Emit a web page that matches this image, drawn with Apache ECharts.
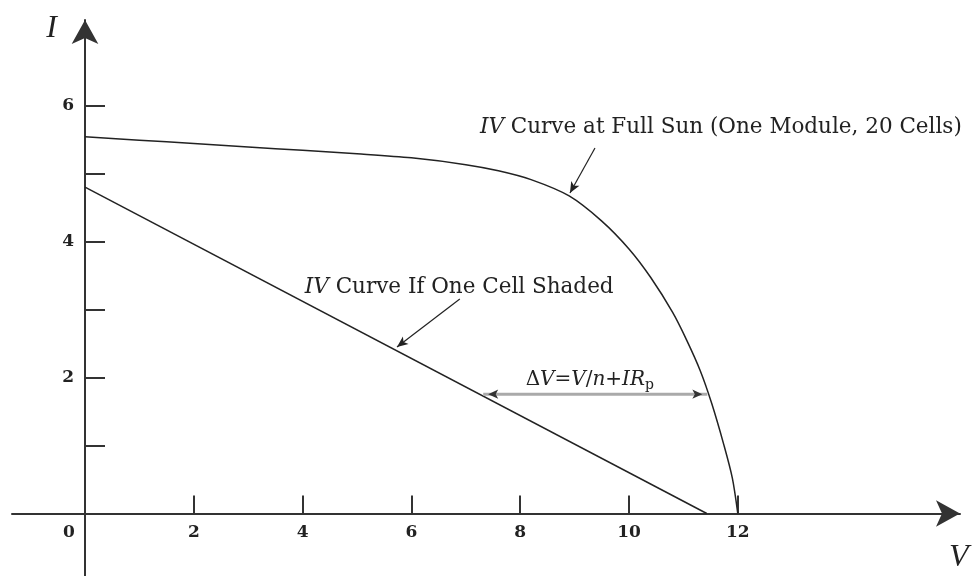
<!DOCTYPE html>
<html>
<head>
<meta charset="utf-8">
<script src="https://cdn.jsdelivr.net/npm/echarts@6/dist/echarts.min.js"></script>
<style>
  html, body { margin: 0; padding: 0; background: #fff; }
  #chart { width: 972px; height: 576px; }
</style>
</head>
<body>
<div id="chart"></div>
<script>
// I–V curve of one 20-cell module at full sun (V in volts, I in amps)
const fullSunV = [0, 1, 2, 3, 4, 5, 6, 7, 7.6, 8.2, 8.9, 9.5, 10, 10.4, 10.8, 11.06, 11.31, 11.52, 11.74, 11.9, 12.0];
const fullSunI = [5.54, 5.49, 5.44, 5.39, 5.34, 5.29, 5.23, 5.13, 5.04, 4.91, 4.67, 4.30, 3.89, 3.47, 2.96, 2.55, 2.10, 1.62, 1.02, 0.52, 0];

// Same module with one cell shaded
const shadedV = [0, 11.43];
const shadedI = [4.8, 0];

// Axis ticks and labels
const xTickValues = [2, 4, 6, 8, 10, 12];
const xLabelValues = [0, 2, 4, 6, 8, 10, 12];
const yTickValues = [1, 2, 3, 4, 5, 6];
const yLabelValues = [2, 4, 6];

// Annotations (data coordinates)
const fullSunPointer = [[9.375, 5.375], [8.915, 4.713]];
const shadedPointer = [[6.89, 3.154], [5.735, 2.449]];
const deltaVSpan = [[7.32, 1.755], [11.44, 1.755]];
const fullSunLabelAt = [7.26, 5.68];
const shadedLabelAt = [4.04, 3.33];
const deltaVLabelAt = [9.28, 1.96];

const fullSunText = '{i|IV}{n| Curve at Full Sun (One Module, 20 Cells)}';
const shadedText = '{i|IV}{n| Curve If One Cell Shaded}';
const deltaVText = '{n|\u0394}{i|V}{n|=}{i|V}{n|/}{i|n}{n|+}{i|IR}{s|p}';

const serif = 'DejaVu Serif';
const ink = '#222';
const axisColor = '#333';

// plot frame in pixels and the value ranges it spans
const gridBox = { left: 12, right: 12, top: 20, bottom: 0 };
const xRange = [-1.342, 16.085];
const yRange = [-0.919, 7.257];
const plotW = 972 - gridBox.left - gridBox.right;
const plotH = 576 - gridBox.top - gridBox.bottom;
// shift the axes so they cross at the origin, labels included
const xAxisOffset = -((0 - yRange[0]) / (yRange[1] - yRange[0])) * plotH;
const yAxisOffset = -((0 - xRange[0]) / (xRange[1] - xRange[0])) * plotW;

function richSet(size) {
  return {
    n: { fontFamily: serif, fontSize: size, color: ink },
    i: { fontFamily: serif, fontSize: size, fontStyle: 'italic', color: ink },
    s: { fontFamily: serif, fontSize: Math.round(size * 0.7), color: ink, padding: [10, 0, 0, 0] }
  };
}

const zip = (xs, ys) => xs.map((x, k) => [x, ys[k]]);
const tickFont = { fontFamily: serif, fontSize: 17, fontWeight: 'bold', color: ink };

const chart = echarts.init(document.getElementById('chart'), null, { renderer: 'canvas' });

chart.setOption({
  animation: false,
  backgroundColor: '#fff',
  grid: Object.assign({ containLabel: false, outerBoundsMode: 'none' }, gridBox),
  xAxis: {
    type: 'value',
    min: xRange[0],
    max: xRange[1],
    position: 'bottom',
    offset: xAxisOffset,
    name: 'V',
    nameLocation: 'end',
    nameGap: -11,
    nameTextStyle: {
      fontFamily: 'Liberation Serif', fontStyle: 'italic', fontSize: 32, color: ink,
      align: 'left', verticalAlign: 'top', padding: [28, 0, 0, 0]
    },
    axisLine: {
      onZero: false,
      symbol: ['none', 'arrow'],
      symbolSize: [20, 24],
      lineStyle: { color: axisColor, width: 2 }
    },
    axisTick: { show: true, inside: true, length: 18, customValues: xTickValues, lineStyle: { color: axisColor, width: 2 } },
    axisLabel: Object.assign({
      customValues: xLabelValues,
      margin: 11,
      formatter: v => (v === 0 ? '{z|0}' : String(v)),
      rich: { z: Object.assign({ padding: [0, 32, 0, 0] }, tickFont) }
    }, tickFont),
    splitLine: { show: false }
  },
  yAxis: {
    type: 'value',
    min: yRange[0],
    max: yRange[1],
    position: 'left',
    offset: yAxisOffset,
    name: 'I',
    nameLocation: 'end',
    nameGap: -9,
    nameTextStyle: {
      fontFamily: 'Liberation Serif', fontStyle: 'italic', fontSize: 32, color: ink,
      align: 'right', verticalAlign: 'middle', padding: [0, 28, 0, 0]
    },
    axisLine: {
      onZero: false,
      symbol: ['none', 'arrow'],
      symbolSize: [20, 24],
      lineStyle: { color: axisColor, width: 2 }
    },
    axisTick: { show: true, inside: true, length: 20, customValues: yTickValues, lineStyle: { color: axisColor, width: 2 } },
    axisLabel: Object.assign({ customValues: yLabelValues, margin: 11 }, tickFont),
    splitLine: { show: false }
  },
  series: [
    {
      name: 'Full sun',
      type: 'line',
      data: zip(fullSunV, fullSunI),
      smooth: 0.3,
      showSymbol: false,
      silent: true,
      lineStyle: { color: ink, width: 1.5 },
      markLine: {
        silent: true,
        symbol: ['none', 'arrow'],
        symbolSize: [7, 11],
        label: { show: false },
        lineStyle: { color: ink, width: 1.2, type: 'solid' },
        data: [[{ coord: fullSunPointer[0] }, { coord: fullSunPointer[1] }]]
      },
      markPoint: {
        silent: true,
        symbol: 'circle',
        symbolSize: 0,
        label: { show: true, position: 'inside', align: 'left', verticalAlign: 'middle', formatter: fullSunText, rich: richSet(21.5) },
        data: [{ coord: fullSunLabelAt }]
      }
    },
    {
      name: 'One cell shaded',
      type: 'line',
      data: zip(shadedV, shadedI),
      showSymbol: false,
      silent: true,
      lineStyle: { color: ink, width: 1.5 },
      markLine: {
        silent: true,
        symbol: ['none', 'arrow'],
        symbolSize: [7, 11],
        label: { show: false },
        lineStyle: { color: ink, width: 1.2, type: 'solid' },
        data: [[{ coord: shadedPointer[0] }, { coord: shadedPointer[1] }]]
      },
      markPoint: {
        silent: true,
        symbol: 'circle',
        symbolSize: 0,
        label: { show: true, position: 'inside', align: 'left', verticalAlign: 'middle', formatter: shadedText, rich: richSet(21.5) },
        data: [{ coord: shadedLabelAt }]
      }
    },
    {
      name: 'Voltage drop',
      type: 'line',
      silent: true,
      showSymbol: true,
      symbolSize: [7, 10],
      itemStyle: { color: '#333' },
      lineStyle: { color: '#aaa', width: 3 },
      data: [
        { value: deltaVSpan[0], symbol: 'arrow', symbolRotate: 90, symbolOffset: [5, 0] },
        { value: deltaVSpan[1], symbol: 'arrow', symbolRotate: -90, symbolOffset: [-5, 0] }
      ],
      markPoint: {
        silent: true,
        symbol: 'circle',
        symbolSize: 0,
        label: { show: true, position: 'inside', align: 'center', verticalAlign: 'middle', formatter: deltaVText, rich: richSet(20) },
        data: [{ coord: deltaVLabelAt }]
      }
    }
  ]
});
</script>
</body>
</html>
